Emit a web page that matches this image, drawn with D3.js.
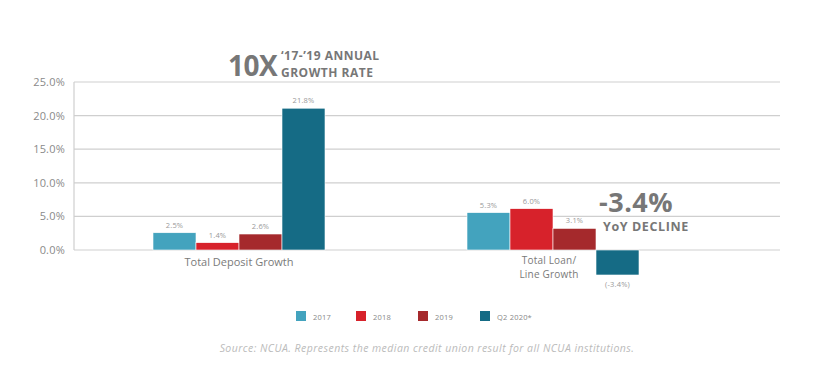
<!DOCTYPE html>
<html>
<head>
<meta charset="utf-8">
<script src="https://cdn.jsdelivr.net/npm/d3@7"></script>
<style>
  body { margin: 0; background: #fff; }
  svg { font-family: "Open Sans", sans-serif; }
</style>
</head>
<body>
<div class="canva"></div>
<script>
// data
const categories = ["Total Deposit Growth", "Total Loan/\nLine Growth"];
const seriesNames = ["2017", "2018", "2019", "Q2 2020*"];
const depositValues = [2.57, 1.09, 2.38, 21.1];
const loanValues = [5.56, 6.15, 3.22, -3.72];
const depositLabels = ["2.5%", "1.4%", "2.6%", "21.8%"];
const loanLabels = ["5.3%", "6.0%", "3.1%", "(-3.4%)"];
const yTicks = [0, 5, 10, 15, 20, 25];
const colors = ["#43a3be", "#d7222b", "#a5292c", "#156b85"];

const width = 826, height = 388;
const svg = d3.select(".canva").append("svg")
    .attr("width", width)
    .attr("height", height);

const y = d3.scaleLinear().domain([0, 25]).range([250, 82]);
const x0 = d3.scaleBand().domain(categories).range([82, 710]);
const x1 = d3.scaleBand().domain(seriesNames).range([0, 172]);

// grid
svg.append("g").selectAll("line")
    .data(yTicks)
    .enter().append("line")
    .attr("x1", 74).attr("x2", 780)
    .attr("y1", d => y(d)).attr("y2", d => y(d))
    .attr("stroke", "#cfcfcf").attr("stroke-width", 1.2);

svg.append("line")
    .attr("x1", 74).attr("x2", 74)
    .attr("y1", y(25)).attr("y2", y(0))
    .attr("stroke", "#cfcfcf").attr("stroke-width", 1.2);

// y axis labels
const yAxis = d3.axisLeft(y).tickValues(yTicks)
    .tickFormat(d => d.toFixed(1) + "%")
    .tickSize(0).tickPadding(9);
svg.append("g").attr("transform", "translate(74,0)").call(yAxis)
    .call(g => g.select(".domain").remove())
    .selectAll("text")
    .attr("fill", "#8a8a8a")
    .style("font-size", "11px")
    .style("letter-spacing", "0.2px")
    .style("font-family", "'Open Sans', sans-serif");

const groups = [
    { cat: categories[0], values: depositValues, labels: depositLabels },
    { cat: categories[1], values: loanValues, labels: loanLabels }
];

groups.forEach(g => {
    const left = x0(g.cat) + x0.bandwidth() / 2 - x1.range()[1] / 2;
    const gg = svg.append("g").attr("transform", `translate(${left},0)`);
    gg.selectAll("rect")
        .data(g.values)
        .enter().append("rect")
        .attr("x", (d, i) => x1(seriesNames[i]))
        .attr("width", x1.bandwidth())
        .attr("y", d => y(Math.max(0, d)))
        .attr("height", d => Math.abs(y(d) - y(0)))
        .attr("fill", (d, i) => colors[i])
        .attr("stroke", "#fff").attr("stroke-width", 0.6);
    gg.selectAll("text")
        .data(g.values)
        .enter().append("text")
        .attr("x", (d, i) => x1(seriesNames[i]) + x1.bandwidth() / 2)
        .attr("y", d => d >= 0 ? y(d) - 5 : y(d) + 12)
        .attr("text-anchor", "middle")
        .attr("fill", "#999")
        .style("font-size", "7.5px")
        .style("letter-spacing", "0.2px")
        .text((d, i) => g.labels[i]);
});

// category labels
svg.append("text")
    .attr("x", x0(categories[0]) + x0.bandwidth() / 2)
    .attr("y", 266)
    .attr("text-anchor", "middle")
    .attr("fill", "#7a7a7a")
    .style("font-size", "11px")
    .text(categories[0]);

const catLines = categories[1].split("\n");
const loanLabelX = x0(categories[1]) + x0.bandwidth() / 2 - 4;
svg.append("g").selectAll("text")
    .data(catLines)
    .enter().append("text")
    .attr("x", loanLabelX)
    .attr("y", (d, i) => 264 + i * 14)
    .attr("text-anchor", "middle")
    .attr("fill", "#7a7a7a")
    .style("font-size", "10px")
    .style("letter-spacing", "0.2px")
    .text(d => d);

// annotations
svg.append("text")
    .attr("x", 228).attr("y", 76)
    .attr("fill", "#777")
    .style("font-size", "28px").style("font-weight", "bold")
    .style("letter-spacing", "-0.5px")
    .text("10X");
svg.append("text")
    .attr("x", 281).attr("y", 60)
    .attr("fill", "#777")
    .style("font-size", "12px").style("font-weight", "bold")
    .style("letter-spacing", "0.5px")
    .text("‘17-’19 ANNUAL");
svg.append("text")
    .attr("x", 281).attr("y", 77)
    .attr("fill", "#777")
    .style("font-size", "12px").style("font-weight", "bold")
    .style("letter-spacing", "0.5px")
    .text("GROWTH RATE");

svg.append("text")
    .attr("x", 599).attr("y", 212)
    .attr("fill", "#777")
    .style("font-size", "27px").style("font-weight", "bold")
    .style("letter-spacing", "0.5px")
    .text("-3.4%");
svg.append("text")
    .attr("x", 603).attr("y", 231)
    .attr("fill", "#777")
    .style("font-size", "12.5px").style("font-weight", "bold")
    .style("letter-spacing", "0.6px")
    .text("YoY DECLINE");

// legend
const legendX = [296, 356, 418, 480];
const legend = svg.append("g").selectAll("g")
    .data(seriesNames)
    .enter().append("g")
    .attr("transform", (d, i) => `translate(${legendX[i]},311)`);
legend.append("rect")
    .attr("width", 10).attr("height", 10)
    .attr("fill", (d, i) => colors[i]);
legend.append("text")
    .attr("x", 17).attr("y", 8.5)
    .attr("fill", "#888")
    .style("font-size", "7.5px")
    .style("letter-spacing", "0.2px")
    .text(d => d);

// source
svg.append("text")
    .attr("x", 427).attr("y", 352)
    .attr("text-anchor", "middle")
    .attr("fill", "#bbb")
    .style("font-size", "10.5px").style("font-style", "italic")
    .style("letter-spacing", "0.45px")
    .text("Source: NCUA. Represents the median credit union result for all NCUA institutions.");
</script>
</body>
</html>
